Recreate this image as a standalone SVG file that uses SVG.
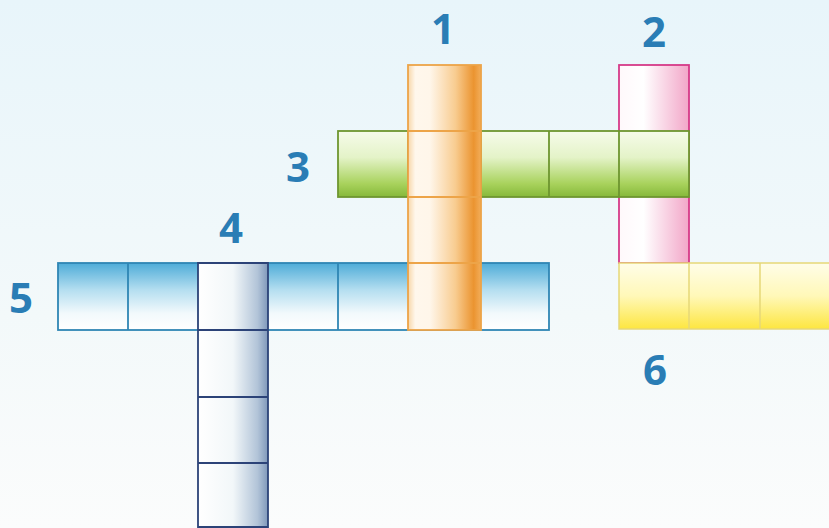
<svg xmlns="http://www.w3.org/2000/svg" width="829" height="528" viewBox="0 0 829 528">
<defs>
<linearGradient id="bg" x1="0" y1="0" x2="0" y2="1">
<stop offset="0" stop-color="#e8f5fa"/>
<stop offset="0.6" stop-color="#f3f9fa"/>
<stop offset="1" stop-color="#fbfcfc"/>
</linearGradient>
<linearGradient id="gOrange" x1="0" y1="0" x2="1" y2="0">
<stop offset="0" stop-color="#f7d6a8"/>
<stop offset="0.1" stop-color="#fff7ec"/>
<stop offset="0.3" stop-color="#fff6ea"/>
<stop offset="0.65" stop-color="#f8cc90"/>
<stop offset="0.9" stop-color="#eb9430"/>
<stop offset="1" stop-color="#f2ad5a"/>
</linearGradient>
<linearGradient id="gPink" x1="0" y1="0" x2="1" y2="0">
<stop offset="0" stop-color="#fff8fb"/>
<stop offset="0.35" stop-color="#ffffff"/>
<stop offset="1" stop-color="#f2a6c8"/>
</linearGradient>
<linearGradient id="gGreen" x1="0" y1="0" x2="0" y2="1">
<stop offset="0" stop-color="#f6fbea"/>
<stop offset="0.4" stop-color="#e4f3c8"/>
<stop offset="0.8" stop-color="#a8d25c"/>
<stop offset="1" stop-color="#86b83a"/>
</linearGradient>
<linearGradient id="gBlue" x1="0" y1="0" x2="0" y2="1">
<stop offset="0" stop-color="#4eacd8"/>
<stop offset="0.4" stop-color="#b4def0"/>
<stop offset="0.75" stop-color="#f2f9fc"/>
<stop offset="1" stop-color="#ffffff"/>
</linearGradient>
<linearGradient id="gNavy" x1="0" y1="0" x2="1" y2="0">
<stop offset="0" stop-color="#ffffff"/>
<stop offset="0.5" stop-color="#f2f7f9"/>
<stop offset="0.85" stop-color="#b2c4d8"/>
<stop offset="1" stop-color="#7f98ba"/>
</linearGradient>
<linearGradient id="gYellow" x1="0" y1="0" x2="0" y2="1">
<stop offset="0" stop-color="#fffde8"/>
<stop offset="0.5" stop-color="#fff8b8"/>
<stop offset="1" stop-color="#fde640"/>
</linearGradient>
</defs>
<style>
.num{font-family:"Open Sans","Noto Sans",sans-serif;font-weight:700;font-size:42px;fill:#2a7db5;text-anchor:middle}
.o{stroke:#eda448;stroke-width:1.8;fill:none}
.p{stroke:#d63a88;stroke-width:1.8;fill:none}
.g{stroke:#6e9630;stroke-width:1.8;fill:none}
.b{stroke:#2f86b4;stroke-width:1.8;fill:none}
.n{stroke:#2c4378;stroke-width:1.8;fill:none}
.y{stroke:#e6d878;stroke-width:1.5;fill:none}
</style>
<rect x="0" y="0" width="829" height="528" fill="url(#bg)"/>

<g id="word2">
<rect x="619" y="65" width="70" height="198" fill="url(#gPink)"/>
<rect class="p" x="619" y="65" width="70" height="198"/>
</g>

<g id="word3">
<rect x="338" y="131" width="351" height="66" fill="url(#gGreen)"/>
<rect class="g" x="338" y="131" width="351" height="66"/>
<path class="g" d="M408 131V197M481 131V197M549 131V197M619 131V197"/>
</g>

<g id="word6">
<rect x="619" y="263" width="215" height="66" fill="url(#gYellow)"/>
<path class="y" d="M835 263H619V329H835M689 263V329M760 263V329"/>
</g>

<g id="word5">
<rect x="58" y="263" width="491" height="67" fill="url(#gBlue)"/>
<rect class="b" x="58" y="263" width="491" height="67"/>
<path class="b" d="M128 263V330M338 263V330"/>
</g>

<g id="word4">
<rect x="198" y="263" width="70" height="270" fill="url(#gNavy)"/>
<path class="n" d="M198 533V263H268V533M198 330H268M198 397H268M198 463H268M198 527H268"/>
</g>

<g id="word1">
<rect x="408" y="65" width="73" height="265" fill="url(#gOrange)"/>
<rect class="o" x="408" y="65" width="73" height="265"/>
<path class="o" d="M408 131H481M408 197H481M408 263H481"/>
</g>

<g id="numbers">
<text class="num" x="443" y="44">1</text>
<text class="num" x="654" y="47">2</text>
<text class="num" x="298" y="182">3</text>
<text class="num" x="231" y="243">4</text>
<text class="num" x="21" y="313">5</text>
<text class="num" x="655" y="385">6</text>
</g>
</svg>
